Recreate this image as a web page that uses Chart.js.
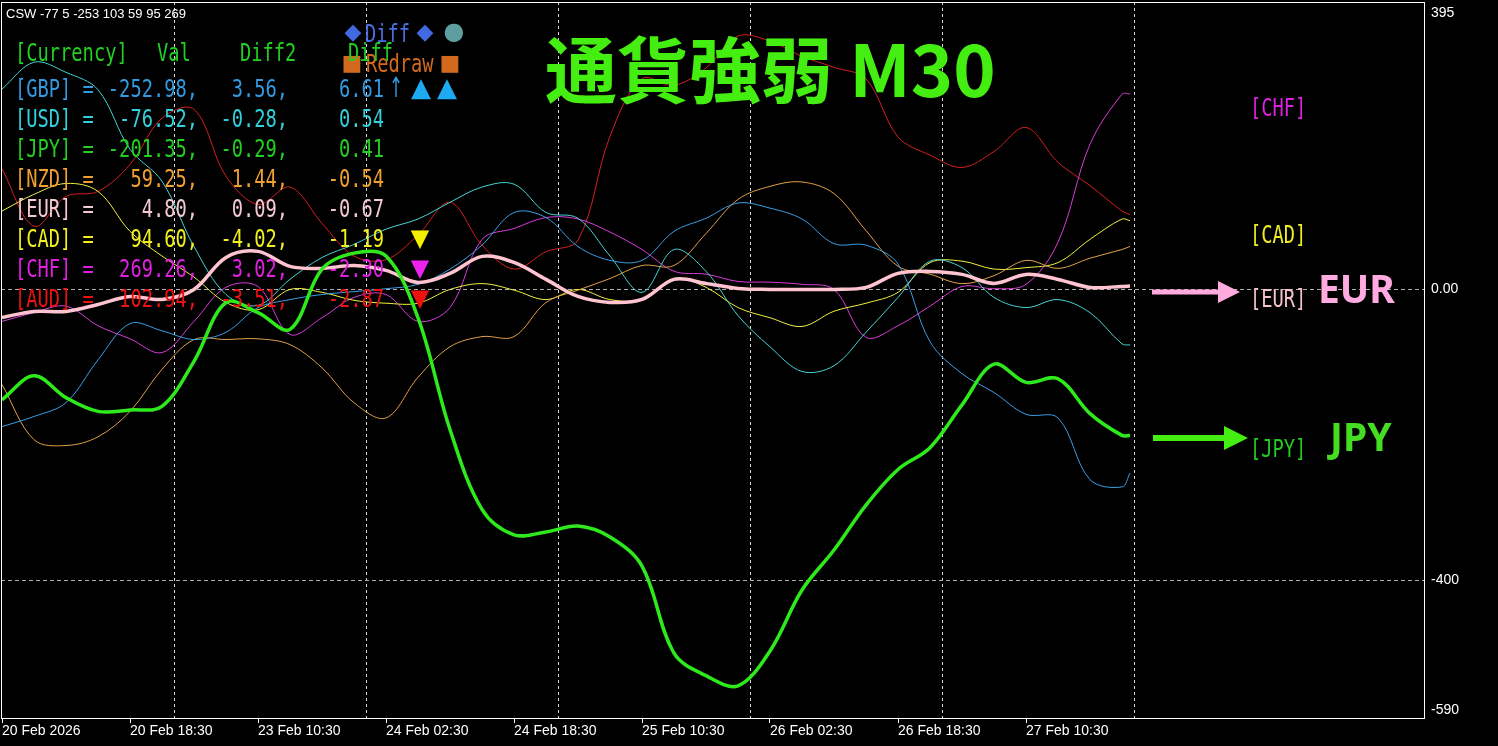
<!DOCTYPE html>
<html>
<head>
<meta charset="utf-8">
<title>通貨強弱 M30</title>
<script src="https://cdn.jsdelivr.net/npm/chart.js@4.4.1/dist/chart.umd.min.js"></script>
<style>
html,body{margin:0;padding:0;background:#000;overflow:hidden;}
#wrap{width:1498px;height:746px;}
</style>
</head>
<body>
<div id="wrap"><canvas id="canvasG1" width="1498" height="746"></canvas></div>
<script>
//데이터 (M30 봉 번호)
var xBars = [0,8,16,24,32,40,48,56,64,72,80,88,96,104,112,120,128,136,144,152,160,168,176,184,192,200,208,216,224,232,240,248,256,264,272,280,282];

var GBP = [-189,-175,-156,-97,-47,-57,-69,-59,-25,-14,-7,-3,1,7,28,61,106,99,59,40,40,80,98,119,112,97,63,61,35,-72,-116,-142,-172,-177,-262,-272,-252.98];
var USD = [276,313,299,275,193,149,59,-7,-22,14,44,62,83,97,120,141,145,106,98,46,-4,55,25,-36,-79,-113,-105,-59,-11,39,30,-11,-25,-14,-32,-75,-76.52];
var JPY = [-152,-119,-149,-168,-166,-161,-99,-18,-32,-55,28,50,46,-39,-193,-303,-338,-334,-326,-341,-381,-501,-532,-546,-498,-414,-359,-297,-248,-218,-159,-103,-128,-123,-171,-201,-201.35];
var NZD = [-131,-207,-215,-203,-168,-110,-69,-69,-68,-76,-108,-156,-177,-121,-79,-65,-65,-18,-1,15,33,33,77,124,142,148,132,81,32,21,8,19,40,29,43,55,59.25];
var EUR = [-38.6,-30.3,-30.3,-20.7,-9.7,-13.8,0,44.1,52.4,31.7,29,33.1,26.2,9.7,22.1,45.5,37.2,13.8,-9.7,-17.9,-13.8,13.8,8.3,1.4,0,0,0,2.8,22.1,24.8,20.7,8.3,20.7,13.8,2.8,4.1,4.8];
var CAD = [108,131,146,135,80,46,17,-18,-28,0,-4,-15,-19,-19,0,8,-1,-14,0,-14,-14,15,3,-25,-39,-51,-30,-19,-4,37,39,28,30,37,69,97,94.6];
var CHF = [-44,-32,-23,-50,-68,-87,-44,3,4,-62,-39,-11,-7,-44,-25,69,84,99,97,79,55,25,21,11,10,7,0,-66,-50,-23,4,1,7,65,200,269,269.26];
var AUD = [166,87,128,135,172,236,248,156,117,141,91,46,41,75,120,61,28,52,68,211,290,281,305,349,342,321,306,290,210,185,168,190,223,175,143,108,102.94];

//축 라벨
var xTickBars = [0,32,64,96,128,160,192,224,256];
var xTickLabels = ["20 Feb 2026","20 Feb 18:30","23 Feb 10:30","24 Feb 02:30","24 Feb 18:30","25 Feb 10:30","26 Feb 02:30","26 Feb 18:30","27 Feb 10:30"];
var xGridBars = [43,91,139,187,235,283];
var yTickValues = [395,0,-400,-590];
var yTickLabels = ["395","0.00","-400","-590"];
var yGridValues = [0,-400];

//표
var tableNames = ["GBP","USD","JPY","NZD","EUR","CAD","CHF","AUD"];
var tableVal = ["-252.98","-76.52","-201.35","59.25","4.80","94.60","269.26","102.94"];
var tableDiff2 = ["3.56","-0.28","-0.29","1.44","0.09","-4.02","3.02","-3.51"];
var tableDiff = ["6.61","0.54","0.41","-0.54","-0.67","-1.19","-2.30","-2.87"];
var cswText = "CSW -77 5 -253 103 59 95 269";

var colors = {
  GBP: {line:"#3a9ee6", text:"#3399e0"},
  USD: {line:"#44d4d4", text:"#33d0dd"},
  JPY: {line:"#2eea1c", text:"#22d022"},
  NZD: {line:"#e0a048", text:"#f0a030"},
  EUR: {line:"#ffc4d0", text:"#f4cad2"},
  CAD: {line:"#f0f040", text:"#f0f020"},
  CHF: {line:"#d83cd8", text:"#e020e0"},
  AUD: {line:"#d42020", text:"#ee1111"}
};
var seriesMap = {GBP:GBP, USD:USD, JPY:JPY, NZD:NZD, EUR:EUR, CAD:CAD, CHF:CHF, AUD:AUD};

var MONO = '24px "DejaVu Sans Mono", monospace';
var MONO_SX = 0.78;

function mkData(vals){
  var out = [];
  for(var i=0;i<xBars.length;i++){ out.push({x:xBars[i], y:vals[i]}); }
  return out;
}

function drawText(c, txt, x, y, color, font, align, sx){
  c.save();
  c.font = font;
  c.fillStyle = color;
  c.textAlign = align || "left";
  c.textBaseline = "middle";
  if(font == MONO){ y += 3; }
  c.translate(x, y);
  c.scale(sx || 1, 1);
  c.fillText(txt, 0, 0);
  c.restore();
}

function drawArrow(c, x1, x2, y, headLen, headH, lw, color){
  c.save();
  c.strokeStyle = color; c.fillStyle = color; c.lineWidth = lw;
  c.beginPath(); c.moveTo(x1, y); c.lineTo(x2 - headLen + 2, y); c.stroke();
  c.beginPath(); c.moveTo(x2 - headLen, y - headH/2); c.lineTo(x2, y); c.lineTo(x2 - headLen, y + headH/2); c.closePath(); c.fill();
  c.restore();
}

//MT4 화면 그리기
var mt4Plugin = {
  id: "mt4Plugin",
  beforeDatasetsDraw: function(chart){
    var c = chart.ctx, a = chart.chartArea, xs = chart.scales.x, ys = chart.scales.y;
    c.save();
    c.lineWidth = 1;
    c.setLineDash([3,3]);
    c.strokeStyle = "#d8d8d8";
    xGridBars.forEach(function(b){
      var px = Math.round(xs.getPixelForValue(b)) + 0.5;
      c.beginPath(); c.moveTo(px, a.top); c.lineTo(px, a.bottom); c.stroke();
    });
    c.strokeStyle = "#b0b0b0";
    c.setLineDash([4,3]);
    yGridValues.forEach(function(v){
      var py = Math.round(ys.getPixelForValue(v)) + 0.5;
      c.beginPath(); c.moveTo(a.left, py); c.lineTo(a.right, py); c.stroke();
    });
    c.restore();
  },
  afterDatasetsDraw: function(chart){
    var c = chart.ctx, a = chart.chartArea, ys = chart.scales.y;
    //테두리
    c.save();
    c.strokeStyle = "#ffffff"; c.lineWidth = 1;
    c.strokeRect(a.left + 0.5, a.top + 0.5, a.right - a.left - 1, a.bottom - a.top);
    c.restore();

    //y 라벨
    yTickValues.forEach(function(v, i){
      var py = ys.getPixelForValue(v);
      py = Math.max(a.top + 11, Math.min(a.bottom - 8, py));
      drawText(c, yTickLabels[i], a.right + 6, py, "#ffffff", '14px "Liberation Sans", Arial, sans-serif', "left");
    });

    //헤더
    var shp = '22px "DejaVu Sans", sans-serif';
    drawText(c, cswText, 6, 14, "#ffffff", '13px "Liberation Sans", Arial, sans-serif', "left");
    drawText(c, "\u25C6", 353, 33, "#4169e1", shp, "center");
    drawText(c, "Diff", 365, 33, "#4a6fe0", MONO, "left", MONO_SX);
    drawText(c, "\u25C6", 425, 33, "#4169e1", shp, "center");
    drawText(c, "\u25CF", 454, 33, "#5f9ea0", '24px "DejaVu Sans", sans-serif', "center");
    drawText(c, "\u25A0", 352, 64, "#d2691e", shp, "center");
    drawText(c, "Redraw", 366, 63, "#d2691e", MONO, "left", MONO_SX);
    drawText(c, "\u25A0", 450, 64, "#d2691e", shp, "center");

    //타이틀
    drawText(c, "通貨強弱 M30", 545, 70, "#44ee11", 'bold 72px "Noto Sans CJK JP", sans-serif', "left");

    //표
    var hc = "#22d022";
    drawText(c, "[Currency]", 15, 52, hc, MONO, "left", MONO_SX);
    drawText(c, "Val", 157, 52, hc, MONO, "left", MONO_SX);
    drawText(c, "Diff2", 240, 52, hc, MONO, "left", MONO_SX);
    drawText(c, "Diff", 348, 52, hc, MONO, "left", MONO_SX);
    for(var i=0;i<tableNames.length;i++){
      var y = 88 + i * 29.9;
      var col = colors[tableNames[i]].text;
      drawText(c, "[" + tableNames[i] + "] =", 15, y, col, MONO, "left", MONO_SX);
      drawText(c, tableVal[i] + ",", 198, y, col, MONO, "right", MONO_SX);
      drawText(c, tableDiff2[i] + ",", 288, y, col, MONO, "right", MONO_SX);
      drawText(c, tableDiff[i], 384, y, col, MONO, "right", MONO_SX);
    }
    var up = '26px "DejaVu Sans", sans-serif';
    var dn = '24px "DejaVu Sans", sans-serif';
    drawText(c, "\u2191", 396, 90, "#3399e0", '28px "DejaVu Sans", sans-serif', "center", 0.6);
    drawText(c, "\u25B2", 421, 89, "#1eaaf0", up, "center");
    drawText(c, "\u25B2", 447, 89, "#1eaaf0", up, "center");
    drawText(c, "\u25BC", 420, 240, "#f0f000", dn, "center");
    drawText(c, "\u25BC", 420, 270, "#ee22ee", dn, "center");
    drawText(c, "\u25BC", 420, 300, "#ee1111", dn, "center");

    //오른쪽 라벨
    drawText(c, "[CHF]", 1250, 107, "#dd22dd", MONO, "left", MONO_SX);
    drawText(c, "[CAD]", 1250, 234, "#eeee22", MONO, "left", MONO_SX);
    drawText(c, "[EUR]", 1250, 298, "#f4c2c8", MONO, "left", MONO_SX);
    drawText(c, "[JPY]", 1250, 448, "#22cc22", MONO, "left", MONO_SX);
    drawArrow(c, 1152, 1240, 292, 22, 22, 5, "#ffaadd");
    drawArrow(c, 1153, 1248, 438, 24, 24, 6, "#44ee11");
    drawText(c, "EUR", 1318, 292, "#ffaae0", 'bold 39px "Noto Sans", sans-serif', "left");
    drawText(c, "JPY", 1330, 440, "#44dd22", 'bold 39px "Noto Sans", sans-serif', "left");
  }
};

//챠트 초기화
function G1_INIT(){
  var names = ["JPY","EUR","GBP","USD","NZD","CAD","CHF","AUD"];
  var datasets = [];
  names.forEach(function(n){
    datasets.push({
      label: n,
      data: mkData(seriesMap[n]),
      borderColor: colors[n].line,
      borderWidth: (n == "JPY" || n == "EUR") ? 3.5 : 1,
      order: n == "JPY" ? 0 : (n == "EUR" ? 1 : 2),
      fill: false
    });
  });
  var ctx = document.getElementById("canvasG1").getContext("2d");
  window.myLineG1 = new Chart(ctx, {
    type: "line",
    data: { datasets: datasets },
    options: {
      responsive: false,
      animation: false,
      devicePixelRatio: 1,
      layout: { padding: { left: 1, top: 2, right: 0, bottom: 0 } },
      plugins: { legend: { display: false }, tooltip: { enabled: false } },
      elements: { point: { radius: 0 }, line: { tension: 0.35, borderJoinStyle: "round" } },
      scales: {
        x: {
          type: "linear", position: "bottom", min: -0.25, max: 355.75,
          afterFit: function(s){ s.height = 28; },
          afterBuildTicks: function(s){ s.ticks = xTickBars.map(function(v){ return {value: v}; }); },
          ticks: {
            autoSkip: false, maxRotation: 0, align: "start", color: "#ffffff", padding: 0,
            font: { family: '"Liberation Sans", Arial, sans-serif', size: 14 },
            callback: function(v){ var i = xTickBars.indexOf(v); return i < 0 ? "" : xTickLabels[i]; }
          },
          grid: { display: true, drawOnChartArea: false, drawTicks: true, tickLength: 5, color: "#ffffff" },
          border: { display: false }
        },
        y: {
          type: "linear", position: "right", min: -590.3, max: 395.9,
          afterFit: function(s){ s.width = 73; },
          ticks: { display: false },
          grid: { display: false },
          border: { display: false }
        }
      }
    },
    plugins: [mt4Plugin]
  });
}

G1_INIT();
</script>
</body>
</html>
